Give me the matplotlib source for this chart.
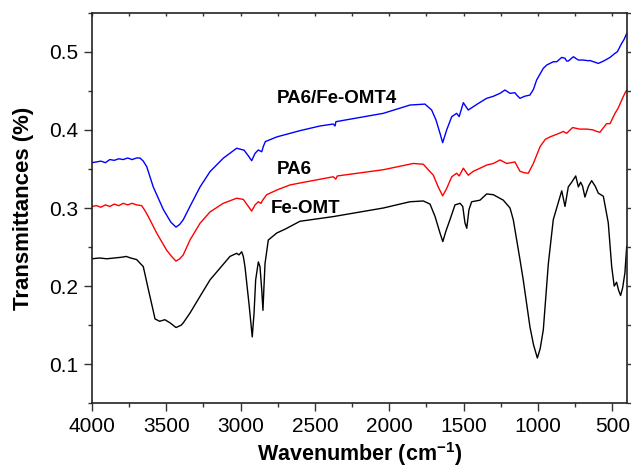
import matplotlib
matplotlib.use("Agg")
import matplotlib.pyplot as plt
from matplotlib.ticker import MultipleLocator

# ---- data (wavenumber in cm^-1, transmittance) ----
feomt_x = [4000, 3950, 3900, 3850, 3800, 3770, 3740, 3700, 3670, 3655, 3620, 3590, 3576, 3545,
           3510, 3475, 3435, 3400, 3386, 3341, 3273, 3206, 3139, 3072, 3027, 3011, 2993, 2982,
           2971, 2942, 2922, 2910, 2899, 2881, 2870, 2858, 2850, 2843, 2836, 2814, 2757, 2700,
           2601, 2377, 2040, 1861, 1771, 1726, 1692, 1659, 1640, 1620, 1592, 1558, 1524, 1506,
           1491, 1479, 1464, 1446, 1390, 1345, 1300, 1233, 1188, 1166, 1143, 1121, 1099, 1054,
           1030, 1004, 985, 964, 930, 897, 874, 840, 818, 796, 773, 746, 728, 713, 700, 684,
           660, 639, 615, 594, 560, 527, 504, 487, 471, 458, 444, 430, 415, 403]
feomt_y = [0.235, 0.236, 0.235, 0.236, 0.237, 0.238, 0.236, 0.234, 0.228, 0.225, 0.195, 0.170,
           0.158, 0.155, 0.157, 0.153, 0.147, 0.150, 0.153, 0.1655, 0.187, 0.208, 0.223, 0.238,
           0.242, 0.240, 0.244, 0.238, 0.225, 0.174, 0.135, 0.165, 0.208, 0.231, 0.225, 0.195,
           0.169, 0.200, 0.229, 0.259, 0.268, 0.273, 0.283, 0.289, 0.300, 0.308, 0.309, 0.305,
           0.289, 0.268, 0.257, 0.270, 0.285, 0.304, 0.306, 0.302, 0.281, 0.274, 0.298, 0.308,
           0.310, 0.318, 0.317, 0.310, 0.300, 0.285, 0.259, 0.234, 0.208, 0.148, 0.125, 0.108,
           0.120, 0.144, 0.229, 0.285, 0.300, 0.322, 0.302, 0.327, 0.333, 0.341, 0.327, 0.333,
           0.328, 0.314, 0.328, 0.335, 0.328, 0.319, 0.315, 0.281, 0.225, 0.200, 0.205, 0.195,
           0.188, 0.198, 0.217, 0.251]

pa6_x = [4000, 3970, 3940, 3910, 3880, 3850, 3820, 3790, 3760, 3730, 3700, 3666, 3645, 3621,
         3565, 3498, 3460, 3435, 3410, 3386, 3341, 3273, 3206, 3117, 3027, 2982, 2948, 2926,
         2903, 2881, 2863, 2852, 2825, 2757, 2668, 2601, 2377, 2360, 2350, 2040, 1839, 1771,
         1738, 1704, 1671, 1641, 1614, 1580, 1547, 1530, 1502, 1469, 1435, 1400, 1345, 1300,
         1255, 1210, 1180, 1155, 1121, 1090, 1065, 1031, 986, 950, 919, 852, 830, 807, 767,
         720, 672, 630, 605, 583, 538, 515, 482, 460, 437, 415, 403]
pa6_y = [0.302, 0.303, 0.301, 0.304, 0.302, 0.305, 0.303, 0.306, 0.304, 0.306, 0.304, 0.303,
         0.297, 0.289, 0.268, 0.246, 0.237, 0.232, 0.235, 0.240, 0.259, 0.2805, 0.295, 0.306,
         0.3125, 0.311, 0.302, 0.296, 0.304, 0.308, 0.306, 0.310, 0.317, 0.323, 0.3295, 0.332,
         0.340, 0.337, 0.341, 0.349, 0.357, 0.356, 0.349, 0.342, 0.327, 0.3155, 0.325, 0.340,
         0.3445, 0.341, 0.351, 0.342, 0.347, 0.350, 0.355, 0.357, 0.3615, 0.357, 0.358, 0.359,
         0.347, 0.345, 0.3445, 0.357, 0.3785, 0.388, 0.391, 0.396, 0.398, 0.3956, 0.403, 0.401,
         0.401, 0.400, 0.398, 0.397, 0.408, 0.408, 0.421, 0.428, 0.438, 0.447, 0.451]

pa6fe_x = [4000, 3970, 3940, 3910, 3880, 3850, 3820, 3790, 3760, 3730, 3700, 3677, 3655, 3632,
           3588, 3520, 3470, 3435, 3410, 3386, 3341, 3273, 3206, 3117, 3027, 2977, 2948, 2926,
           2903, 2881, 2858, 2848, 2834, 2757, 2601, 2466, 2377, 2365, 2359, 2040, 1861, 1760,
           1715, 1686, 1659, 1641, 1614, 1580, 1547, 1530, 1502, 1469, 1435, 1400, 1345, 1300,
           1255, 1222, 1188, 1155, 1140, 1121, 1090, 1054, 1030, 1009, 964, 941, 897, 874, 840,
           818, 807, 796, 762, 728, 695, 661, 650, 594, 560, 538, 515, 482, 466, 437, 420, 403]
pa6fe_y = [0.358, 0.359, 0.360, 0.358, 0.362, 0.361, 0.363, 0.362, 0.364, 0.362, 0.364, 0.364,
           0.360, 0.353, 0.327, 0.298, 0.282, 0.2755, 0.279, 0.285, 0.302, 0.327, 0.3466, 0.3637,
           0.3765, 0.374, 0.3667, 0.3605, 0.370, 0.3743, 0.372, 0.3785, 0.385, 0.391, 0.399,
           0.405, 0.4075, 0.405, 0.4105, 0.4212, 0.4318, 0.433, 0.4254, 0.4127, 0.3956, 0.3836,
           0.400, 0.4169, 0.4212, 0.417, 0.4348, 0.4254, 0.4297, 0.434, 0.4404, 0.443, 0.4468,
           0.451, 0.4468, 0.4476, 0.444, 0.4404, 0.443, 0.4446, 0.452, 0.4638, 0.4788, 0.483,
           0.4872, 0.4872, 0.4928, 0.4916, 0.4881, 0.4881, 0.4936, 0.4894, 0.4894, 0.4885,
           0.4888, 0.4851, 0.488, 0.4903, 0.4928, 0.498, 0.500, 0.5107, 0.516, 0.5235]

series_names = ["Fe-OMT", "PA6", "PA6/Fe-OMT4"]
x_ticks = [4000, 3500, 3000, 2500, 2000, 1500, 1000, 500]
y_ticks = [0.1, 0.2, 0.3, 0.4, 0.5]

plt.rcParams['font.family'] = ['Liberation Sans', 'DejaVu Sans']

fig = plt.figure(figsize=(6.31, 4.71), dpi=100)
ax = fig.add_axes([92 / 631, 1 - 403.3 / 471, (626.7 - 92) / 631, (403.3 - 12.7) / 471])

ax.plot(feomt_x, feomt_y, color='black', lw=1.0)
ax.plot(pa6_x, pa6_y, color='red', lw=1.0)
ax.plot(pa6fe_x, pa6fe_y, color='blue', lw=1.0)

ax.set_xlim(4000, 403)
ax.set_ylim(0.05, 0.55)
ax.set_xticks(x_ticks)
ax.set_xticklabels([str(v) for v in x_ticks])
ax.set_yticks(y_ticks)
ax.set_yticklabels([str(v) for v in y_ticks])
ax.xaxis.set_minor_locator(MultipleLocator(250))
ax.yaxis.set_minor_locator(MultipleLocator(0.05))

ax.tick_params(axis='both', which='major', labelsize=15, length=6, width=1.0, direction='out',
               color='#333333', pad=4)
ax.tick_params(axis='both', which='minor', length=3, width=1.0, direction='out', color='#333333')
ax.tick_params(axis='x', which='both', top=True, labeltop=False)
ax.tick_params(axis='y', which='both', right=True, labelright=False)
for sp in ax.spines.values():
    sp.set_linewidth(1.2)
    sp.set_color('#222222')

# tiny inward ticks on top, short outward on right
for t in ax.xaxis.get_major_ticks() + ax.xaxis.get_minor_ticks():
    t.tick2line.set_markersize(2)
    t.tick2line.set_marker(3)
for t in ax.yaxis.get_major_ticks() + ax.yaxis.get_minor_ticks():
    t.tick2line.set_markersize(3)

ax.set_xlabel('Wavenumber (cm$^{\\mathregular{-1}}$)', fontsize=15.5, fontweight='bold', labelpad=3)
ax.set_ylabel('Transmittances (%)', fontsize=16, fontweight='bold', labelpad=11)

ax.text(2352, 0.4408, series_names[2], fontsize=13.5, fontweight='bold', ha='center', va='center')
ax.text(2638, 0.3487, series_names[1], fontsize=13.5, fontweight='bold', ha='center', va='center')
ax.text(2560, 0.2989, series_names[0], fontsize=13.5, fontweight='bold', ha='center', va='center')

fig.savefig('out.png', dpi=100)
